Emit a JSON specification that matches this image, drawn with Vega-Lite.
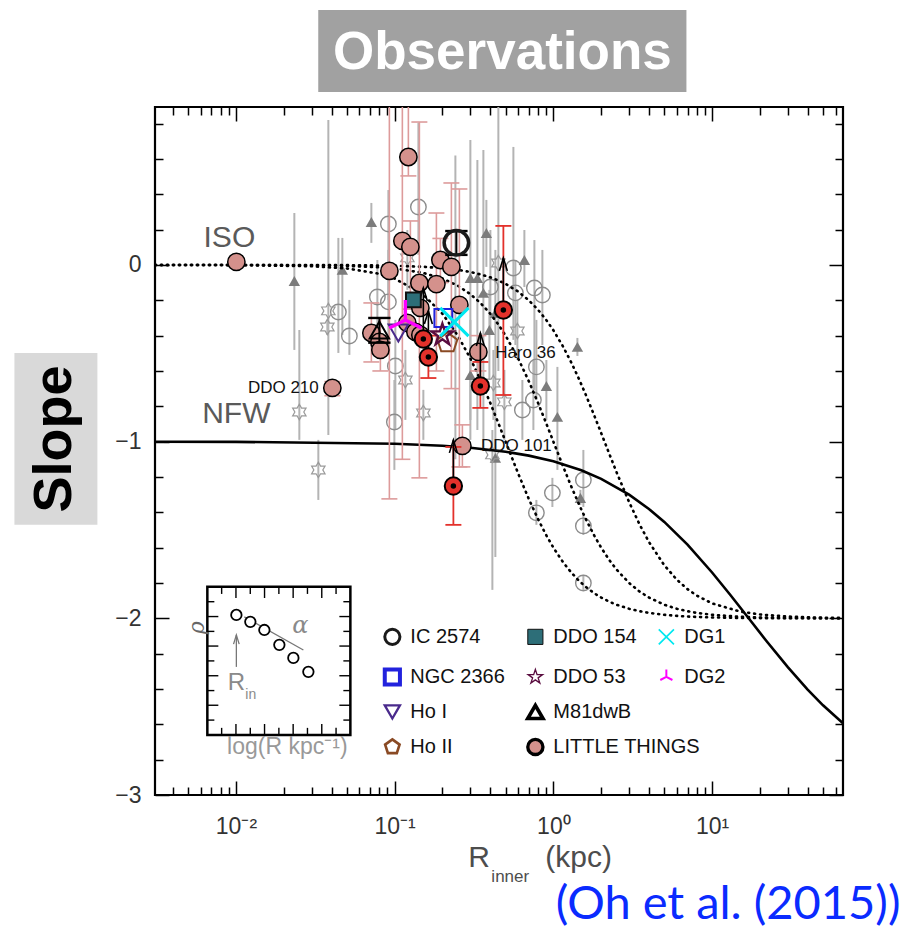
{
  "$schema": "https://vega.github.io/schema/vega-lite/v6.json",
  "width": 688,
  "height": 688,
  "autosize": {"type": "none"},
  "padding": {"left": 155, "top": 107, "right": 63, "bottom": 147},
  "background": "white",
  "config": {
    "view": {"stroke": "black", "strokeWidth": 2.2},
    "axis": {"domain": false, "grid": false},
    "text": {"font": "Liberation Sans"}
  },
  "datasets": {
    "gray": [
      {"r": 0.09128, "s": 0.232, "lo": -0.198, "hi": 0.424, "kind": "circle"},
      {"r": 0.1411, "s": 0.328, "lo": 0.057, "hi": 0.804, "kind": "circle"},
      {"r": 0.0778, "s": -0.181, "lo": -0.368, "hi": 0.028, "kind": "circle"},
      {"r": 0.09128, "s": -0.209, "lo": -0.481, "hi": 0.085, "kind": "circle"},
      {"r": 0.04418, "s": -0.266, "lo": -0.498, "hi": 0.153, "kind": "circle"},
      {"r": 0.05184, "s": -0.402, "lo": -0.509, "hi": -0.198, "kind": "circle"},
      {"r": 0.101, "s": -0.572, "lo": -0.934, "hi": -0.311, "kind": "circle"},
      {"r": 0.09957, "s": -0.889, "lo": -1.16, "hi": -0.651, "kind": "circle"},
      {"r": 0.4009, "s": -0.125, "lo": -0.368, "hi": 0.198, "kind": "circle"},
      {"r": 0.5598, "s": -0.017, "lo": -0.424, "hi": 0.668, "kind": "circle"},
      {"r": 0.7592, "s": -0.13, "lo": -0.707, "hi": 0.141, "kind": "circle"},
      {"r": 0.8524, "s": -0.17, "lo": -0.453, "hi": 0.085, "kind": "circle"},
      {"r": 0.5763, "s": -0.158, "lo": -0.453, "hi": 0.028, "kind": "circle"},
      {"r": 0.7815, "s": -0.577, "lo": -0.764, "hi": -0.311, "kind": "circle"},
      {"r": 0.7482, "s": -0.764, "lo": -0.934, "hi": -0.538, "kind": "circle"},
      {"r": 0.6377, "s": -0.821, "lo": -0.99, "hi": -0.651, "kind": "circle"},
      {"r": 1.545, "s": -1.217, "lo": -1.37, "hi": -1.047, "kind": "circle"},
      {"r": 0.9856, "s": -1.29, "lo": -1.37, "hi": -1.205, "kind": "circle"},
      {"r": 0.7815, "s": -1.403, "lo": -1.471, "hi": -1.33, "kind": "circle"},
      {"r": 1.545, "s": -1.477, "lo": -1.528, "hi": -1.415, "kind": "circle"},
      {"r": 1.545, "s": -1.8, "lo": -1.839, "hi": -1.754, "kind": "circle"},
      {"r": 0.02333, "s": -0.091, "lo": -0.481, "hi": 0.294, "kind": "triangle"},
      {"r": 0.04681, "s": -0.028, "lo": -0.396, "hi": 0.153, "kind": "triangle"},
      {"r": 0.07131, "s": 0.243, "lo": 0.125, "hi": 0.351, "kind": "triangle"},
      {"r": 0.3783, "s": 0.181, "lo": -0.011, "hi": 0.368, "kind": "triangle"},
      {"r": 0.6565, "s": 0.028, "lo": -0.125, "hi": 0.198, "kind": "triangle"},
      {"r": 0.2999, "s": -0.074, "lo": -0.877, "hi": 0.707, "kind": "triangle"},
      {"r": 0.332, "s": -0.074, "lo": -0.934, "hi": 0.594, "kind": "triangle"},
      {"r": 0.3622, "s": -0.158, "lo": -1.047, "hi": 0.651, "kind": "triangle"},
      {"r": 0.3952, "s": -0.368, "lo": -0.651, "hi": -0.141, "kind": "triangle"},
      {"r": 0.431, "s": -0.272, "lo": -0.651, "hi": 0.085, "kind": "triangle"},
      {"r": 0.2999, "s": -0.623, "lo": -0.99, "hi": -0.311, "kind": "triangle"},
      {"r": 1.417, "s": -0.464, "lo": -0.515, "hi": -0.413, "kind": "triangle"},
      {"r": 0.9034, "s": -0.685, "lo": -0.877, "hi": -0.538, "kind": "triangle"},
      {"r": 1.06, "s": -0.86, "lo": -1.16, "hi": -0.577, "kind": "triangle"},
      {"r": 0.431, "s": -1.092, "lo": -1.653, "hi": -0.651, "kind": "triangle"},
      {"r": 1.48, "s": -1.319, "lo": -1.358, "hi": -1.273, "kind": "triangle"},
      {"r": 0.2413, "s": -0.2, "lo": -1.1, "hi": 0.62, "kind": "triangle"},
      {"r": 0.03821, "s": -0.26, "lo": -0.962, "hi": 0.821, "kind": "star"},
      {"r": 0.03766, "s": -0.351, "lo": -0.396, "hi": -0.311, "kind": "star"},
      {"r": 0.02508, "s": -0.832, "lo": -0.99, "hi": -0.368, "kind": "star"},
      {"r": 0.03304, "s": -1.16, "lo": -1.33, "hi": -0.99, "kind": "star"},
      {"r": 0.1168, "s": -0.651, "lo": -0.877, "hi": -0.481, "kind": "star"},
      {"r": 0.1516, "s": -0.838, "lo": -0.99, "hi": -0.707, "kind": "star"},
      {"r": 0.1202, "s": 0.04, "lo": -0.141, "hi": 0.198, "kind": "star"},
      {"r": 0.4501, "s": 0.011, "lo": -0.6, "hi": 0.9, "kind": "star"},
      {"r": 0.5932, "s": -0.374, "lo": -0.538, "hi": -0.198, "kind": "star"},
      {"r": 0.4912, "s": -0.775, "lo": -0.99, "hi": -0.594, "kind": "star"},
      {"r": 0.4187, "s": -0.668, "lo": -0.877, "hi": -0.481, "kind": "star"},
      {"r": 0.4127, "s": -1.075, "lo": -1.839, "hi": -0.934, "kind": "star"}
    ],
    "curves": [
      {"model": "ISO a", "r": 0.00309, "s": 0}, {"model": "ISO a", "r": 0.01, "s": -0.0008}, {"model": "ISO a", "r": 0.03, "s": -0.0072},
      {"model": "ISO a", "r": 0.05, "s": -0.0198}, {"model": "ISO a", "r": 0.08, "s": -0.0499}, {"model": "ISO a", "r": 0.1, "s": -0.0769},
      {"model": "ISO a", "r": 0.15, "s": -0.1651}, {"model": "ISO a", "r": 0.2, "s": -0.2759}, {"model": "ISO a", "r": 0.25, "s": -0.4},
      {"model": "ISO a", "r": 0.3, "s": -0.5294}, {"model": "ISO a", "r": 0.35, "s": -0.6577}, {"model": "ISO a", "r": 0.4, "s": -0.7805},
      {"model": "ISO a", "r": 0.45, "s": -0.895}, {"model": "ISO a", "r": 0.5, "s": -1}, {"model": "ISO a", "r": 0.6, "s": -1.1803},
      {"model": "ISO a", "r": 0.7, "s": -1.3243}, {"model": "ISO a", "r": 0.8, "s": -1.4382}, {"model": "ISO a", "r": 0.9, "s": -1.5283},
      {"model": "ISO a", "r": 1, "s": -1.6}, {"model": "ISO a", "r": 1.15, "s": -1.682}, {"model": "ISO a", "r": 1.3, "s": -1.7423},
      {"model": "ISO a", "r": 1.45, "s": -1.7875}, {"model": "ISO a", "r": 1.6, "s": -1.8221}, {"model": "ISO a", "r": 1.8, "s": -1.8567},
      {"model": "ISO a", "r": 2, "s": -1.8824}, {"model": "ISO a", "r": 2.25, "s": -1.9059}, {"model": "ISO a", "r": 2.5, "s": -1.9231},
      {"model": "ISO a", "r": 3, "s": -1.9459}, {"model": "ISO a", "r": 3.5, "s": -1.96}, {"model": "ISO a", "r": 4, "s": -1.9692},
      {"model": "ISO a", "r": 5, "s": -1.9802}, {"model": "ISO a", "r": 6, "s": -1.9862}, {"model": "ISO a", "r": 7, "s": -1.9898},
      {"model": "ISO a", "r": 8, "s": -1.9922}, {"model": "ISO a", "r": 10, "s": -1.995}, {"model": "ISO a", "r": 15, "s": -1.9978},
      {"model": "ISO a", "r": 20, "s": -1.9988}, {"model": "ISO a", "r": 30, "s": -1.9994}, {"model": "ISO a", "r": 45, "s": -1.9998},
      {"model": "ISO a", "r": 66.8, "s": -2},
      {"model": "ISO b", "r": 0.00309, "s": 0}, {"model": "ISO b", "r": 0.01, "s": -0.0002}, {"model": "ISO b", "r": 0.03, "s": -0.0018},
      {"model": "ISO b", "r": 0.05, "s": -0.005}, {"model": "ISO b", "r": 0.08, "s": -0.0127}, {"model": "ISO b", "r": 0.1, "s": -0.0198},
      {"model": "ISO b", "r": 0.15, "s": -0.044}, {"model": "ISO b", "r": 0.2, "s": -0.0769}, {"model": "ISO b", "r": 0.25, "s": -0.1176},
      {"model": "ISO b", "r": 0.3, "s": -0.1651}, {"model": "ISO b", "r": 0.35, "s": -0.2183}, {"model": "ISO b", "r": 0.4, "s": -0.2759},
      {"model": "ISO b", "r": 0.45, "s": -0.3368}, {"model": "ISO b", "r": 0.5, "s": -0.4}, {"model": "ISO b", "r": 0.6, "s": -0.5294},
      {"model": "ISO b", "r": 0.7, "s": -0.6577}, {"model": "ISO b", "r": 0.8, "s": -0.7805}, {"model": "ISO b", "r": 0.9, "s": -0.895},
      {"model": "ISO b", "r": 1, "s": -1}, {"model": "ISO b", "r": 1.15, "s": -1.1389}, {"model": "ISO b", "r": 1.3, "s": -1.2565},
      {"model": "ISO b", "r": 1.45, "s": -1.3554}, {"model": "ISO b", "r": 1.6, "s": -1.4382}, {"model": "ISO b", "r": 1.8, "s": -1.5283},
      {"model": "ISO b", "r": 2, "s": -1.6}, {"model": "ISO b", "r": 2.25, "s": -1.6701}, {"model": "ISO b", "r": 2.5, "s": -1.7241},
      {"model": "ISO b", "r": 3, "s": -1.8}, {"model": "ISO b", "r": 3.5, "s": -1.8491}, {"model": "ISO b", "r": 4, "s": -1.8824},
      {"model": "ISO b", "r": 5, "s": -1.9231}, {"model": "ISO b", "r": 6, "s": -1.9459}, {"model": "ISO b", "r": 7, "s": -1.96},
      {"model": "ISO b", "r": 8, "s": -1.9692}, {"model": "ISO b", "r": 10, "s": -1.9802}, {"model": "ISO b", "r": 15, "s": -1.9912},
      {"model": "ISO b", "r": 20, "s": -1.995}, {"model": "ISO b", "r": 30, "s": -1.9978}, {"model": "ISO b", "r": 45, "s": -1.999},
      {"model": "ISO b", "r": 66.8, "s": -1.9996},
      {"model": "ISO c", "r": 0.00309, "s": 0}, {"model": "ISO c", "r": 0.01, "s": 0}, {"model": "ISO c", "r": 0.03, "s": -0.0004},
      {"model": "ISO c", "r": 0.05, "s": -0.0011}, {"model": "ISO c", "r": 0.08, "s": -0.0029}, {"model": "ISO c", "r": 0.1, "s": -0.0045},
      {"model": "ISO c", "r": 0.15, "s": -0.0102}, {"model": "ISO c", "r": 0.2, "s": -0.018}, {"model": "ISO c", "r": 0.25, "s": -0.0279},
      {"model": "ISO c", "r": 0.3, "s": -0.04}, {"model": "ISO c", "r": 0.35, "s": -0.0541}, {"model": "ISO c", "r": 0.4, "s": -0.07},
      {"model": "ISO c", "r": 0.45, "s": -0.0878}, {"model": "ISO c", "r": 0.5, "s": -0.1073}, {"model": "ISO c", "r": 0.6, "s": -0.1509},
      {"model": "ISO c", "r": 0.7, "s": -0.2}, {"model": "ISO c", "r": 0.8, "s": -0.2535}, {"model": "ISO c", "r": 0.9, "s": -0.3103},
      {"model": "ISO c", "r": 1, "s": -0.3697}, {"model": "ISO c", "r": 1.15, "s": -0.4614}, {"model": "ISO c", "r": 1.3, "s": -0.5541},
      {"model": "ISO c", "r": 1.45, "s": -0.6457}, {"model": "ISO c", "r": 1.6, "s": -0.7346}, {"model": "ISO c", "r": 1.8, "s": -0.8471},
      {"model": "ISO c", "r": 2, "s": -0.9512}, {"model": "ISO c", "r": 2.25, "s": -1.0689}, {"model": "ISO c", "r": 2.5, "s": -1.1726},
      {"model": "ISO c", "r": 3, "s": -1.3423}, {"model": "ISO c", "r": 3.5, "s": -1.4706}, {"model": "ISO c", "r": 4, "s": -1.5678},
      {"model": "ISO c", "r": 5, "s": -1.7001}, {"model": "ISO c", "r": 6, "s": -1.7817}, {"model": "ISO c", "r": 7, "s": -1.8349},
      {"model": "ISO c", "r": 8, "s": -1.8711}, {"model": "ISO c", "r": 10, "s": -1.9155}, {"model": "ISO c", "r": 15, "s": -1.9616},
      {"model": "ISO c", "r": 20, "s": -1.9782}, {"model": "ISO c", "r": 30, "s": -1.9902}, {"model": "ISO c", "r": 45, "s": -1.9957},
      {"model": "ISO c", "r": 66.8, "s": -1.998},
      {"model": "NFW", "r": 0.00309, "s": -1.0004}, {"model": "NFW", "r": 0.01, "s": -1.0012}, {"model": "NFW", "r": 0.1, "s": -1.0117},
      {"model": "NFW", "r": 0.2, "s": -1.0233}, {"model": "NFW", "r": 0.3, "s": -1.0347}, {"model": "NFW", "r": 0.5, "s": -1.0571},
      {"model": "NFW", "r": 0.7, "s": -1.0791}, {"model": "NFW", "r": 1, "s": -1.1111}, {"model": "NFW", "r": 1.5, "s": -1.1622},
      {"model": "NFW", "r": 2, "s": -1.2105}, {"model": "NFW", "r": 3, "s": -1.3}, {"model": "NFW", "r": 4, "s": -1.381},
      {"model": "NFW", "r": 5, "s": -1.4545}, {"model": "NFW", "r": 7, "s": -1.5833}, {"model": "NFW", "r": 10, "s": -1.7407},
      {"model": "NFW", "r": 13, "s": -1.8667}, {"model": "NFW", "r": 17, "s": -2}, {"model": "NFW", "r": 22, "s": -2.1282},
      {"model": "NFW", "r": 30, "s": -2.2766}, {"model": "NFW", "r": 40, "s": -2.4035}, {"model": "NFW", "r": 50, "s": -2.4925},
      {"model": "NFW", "r": 66.8, "s": -2.5944}
    ],
    "little": [
      {"r": 0.01006, "s": 0.017},
      {"r": 0.122, "s": 0.611, "lo": 0.504, "hi": 1.0},
      {"r": 0.1118, "s": 0.136, "lo": -1.1, "hi": 1.0},
      {"r": 0.1256, "s": 0.102, "lo": -0.25, "hi": 0.249},
      {"r": 0.09262, "s": -0.034, "lo": -1.324, "hi": 1.0},
      {"r": 0.1941, "s": 0.028, "lo": -0.1, "hi": 0.15},
      {"r": 0.2277, "s": -0.011, "lo": -0.7, "hi": 0.464},
      {"r": 0.1431, "s": -0.102, "lo": -1.205, "hi": 0.809},
      {"r": 0.1832, "s": -0.108, "lo": -0.6, "hi": 0.294},
      {"r": 0.2557, "s": -0.226, "lo": -1.143, "hi": 0.43},
      {"r": 0.07131, "s": -0.385, "lo": -0.549, "hi": -0.215},
      {"r": 0.0801, "s": -0.436},
      {"r": 0.08127, "s": -0.481, "lo": -0.6, "hi": -0.3},
      {"r": 0.1202, "s": -0.328},
      {"r": 0.1351, "s": -0.379},
      {"r": 0.1452, "s": -0.396},
      {"r": 0.1452, "s": -0.243},
      {"r": 0.04049, "s": -0.696, "lo": -0.74, "hi": -0.66},
      {"r": 0.2671, "s": -1.024, "lo": -1.143, "hi": -0.905},
      {"r": 0.3369, "s": -0.492, "lo": -0.6, "hi": -0.4}
    ],
    "red": [
      {"r": 0.1516, "s": -0.419, "top": -0.13},
      {"r": 0.1631, "s": -0.521, "lo": -0.64, "hi": -0.4, "top": -0.26},
      {"r": 0.4841, "s": -0.255, "lo": -0.736, "hi": 0.221, "top": 0.04},
      {"r": 0.3467, "s": -0.685, "lo": -0.809, "hi": -0.549, "top": -0.385},
      {"r": 0.2344, "s": -1.251, "lo": -1.471, "hi": -1.03, "top": -0.99}
    ],
    "special": [
      {"name": "IC 2574", "r": 0.2448, "s": 0.125},
      {"name": "DDO 154", "r": 0.1312, "s": -0.198},
      {"name": "NGC 2366", "r": 0.2027, "s": -0.3},
      {"name": "Ho I", "r": 0.1055, "s": -0.385},
      {"name": "Ho II", "r": 0.2148, "s": -0.441},
      {"name": "DDO 53", "r": 0.1998, "s": -0.396},
      {"name": "M81dwB", "r": 0.0801, "s": -0.368},
      {"name": "DG1", "r": 0.2378, "s": -0.323},
      {"name": "DG2", "r": 0.1168, "s": -0.311}
    ],
    "specialBars": [
      {"r": 0.2448, "lo": 0.057, "hi": 0.192},
      {"r": 0.0801, "lo": -0.44, "hi": -0.3}
    ],
    "legend": [
      {"name": "IC 2574", "r": 0.0967, "s": -2.105},
      {"name": "NGC 2366", "r": 0.0967, "s": -2.332},
      {"name": "Ho I", "r": 0.0967, "s": -2.53},
      {"name": "Ho II", "r": 0.0967, "s": -2.728},
      {"name": "DDO 154", "r": 0.77, "s": -2.105},
      {"name": "DDO 53", "r": 0.77, "s": -2.332},
      {"name": "M81dwB", "r": 0.77, "s": -2.53},
      {"name": "LITTLE THINGS", "r": 0.77, "s": -2.728},
      {"name": "DG1", "r": 5.15, "s": -2.105},
      {"name": "DG2", "r": 5.15, "s": -2.332}
    ],
    "insetTicks": [
      {"r": 0.006603, "r2": 0.00731, "s": -1.906, "s2": -1.906},
      {"r": 0.006603, "r2": 0.007745, "s": -1.99, "s2": -1.99},
      {"r": 0.006603, "r2": 0.00731, "s": -2.074, "s2": -2.074},
      {"r": 0.006603, "r2": 0.007745, "s": -2.157, "s2": -2.157},
      {"r": 0.006603, "r2": 0.00731, "s": -2.241, "s2": -2.241},
      {"r": 0.006603, "r2": 0.007745, "s": -2.325, "s2": -2.325},
      {"r": 0.006603, "r2": 0.00731, "s": -2.409, "s2": -2.409},
      {"r": 0.006603, "r2": 0.007745, "s": -2.492, "s2": -2.492},
      {"r": 0.006603, "r2": 0.00731, "s": -2.576, "s2": -2.576},
      {"r": 0.05259, "r2": 0.0475, "s": -1.906, "s2": -1.906},
      {"r": 0.05259, "r2": 0.04482, "s": -1.99, "s2": -1.99},
      {"r": 0.05259, "r2": 0.0475, "s": -2.074, "s2": -2.074},
      {"r": 0.05259, "r2": 0.04482, "s": -2.157, "s2": -2.157},
      {"r": 0.05259, "r2": 0.0475, "s": -2.241, "s2": -2.241},
      {"r": 0.05259, "r2": 0.04482, "s": -2.325, "s2": -2.325},
      {"r": 0.05259, "r2": 0.0475, "s": -2.409, "s2": -2.409},
      {"r": 0.05259, "r2": 0.04482, "s": -2.492, "s2": -2.492},
      {"r": 0.05259, "r2": 0.0475, "s": -2.576, "s2": -2.576},
      {"r": 0.008126, "r2": 0.008126, "s": -1.822, "s2": -1.862},
      {"r": 0.01, "r2": 0.01, "s": -1.822, "s2": -1.885},
      {"r": 0.01231, "r2": 0.01231, "s": -1.822, "s2": -1.862},
      {"r": 0.01514, "r2": 0.01514, "s": -1.822, "s2": -1.885},
      {"r": 0.01864, "r2": 0.01864, "s": -1.822, "s2": -1.862},
      {"r": 0.02293, "r2": 0.02293, "s": -1.822, "s2": -1.885},
      {"r": 0.02822, "r2": 0.02822, "s": -1.822, "s2": -1.862},
      {"r": 0.03473, "r2": 0.03473, "s": -1.822, "s2": -1.885},
      {"r": 0.04273, "r2": 0.04273, "s": -1.822, "s2": -1.862},
      {"r": 0.008126, "r2": 0.008126, "s": -2.66, "s2": -2.62},
      {"r": 0.01, "r2": 0.01, "s": -2.66, "s2": -2.598},
      {"r": 0.01231, "r2": 0.01231, "s": -2.66, "s2": -2.62},
      {"r": 0.01514, "r2": 0.01514, "s": -2.66, "s2": -2.598},
      {"r": 0.01864, "r2": 0.01864, "s": -2.66, "s2": -2.62},
      {"r": 0.02293, "r2": 0.02293, "s": -2.66, "s2": -2.598},
      {"r": 0.02822, "r2": 0.02822, "s": -2.66, "s2": -2.62},
      {"r": 0.03473, "r2": 0.03473, "s": -2.66, "s2": -2.598},
      {"r": 0.04273, "r2": 0.04273, "s": -2.66, "s2": -2.62}
    ],
    "insetProfile": [
      {"r": 0.01006, "s": -1.981},
      {"r": 0.01232, "s": -2.02},
      {"r": 0.0151, "s": -2.066},
      {"r": 0.01877, "s": -2.15},
      {"r": 0.023, "s": -2.224},
      {"r": 0.02859, "s": -2.303}
    ]
  },
  "encoding": {
    "x": {"field": "r", "type": "quantitative", "scale": {"type": "log", "domain": [0.00309, 66.8], "nice": false}, "axis": null},
    "y": {"field": "s", "type": "quantitative", "scale": {"domain": [-3, 0.894], "nice": false, "zero": false}, "axis": null}
  },
  "layer": [
    {
      "data": {"values": [{"r": 1, "s": 0}]},
      "mark": {"type": "point", "opacity": 0},
      "encoding": {
        "x": {"field": "r", "type": "quantitative", "scale": {"type": "log", "domain": [0.00309, 66.8], "nice": false},
          "axis": {"orient": "bottom",
            "values": [0.004, 0.005, 0.006, 0.007, 0.008, 0.009, 0.01, 0.02, 0.03, 0.04, 0.05, 0.06, 0.07, 0.08, 0.09, 0.1, 0.2, 0.3, 0.4, 0.5, 0.6, 0.7, 0.8, 0.9, 1, 2, 3, 4, 5, 6, 7, 8, 9, 10, 20, 30, 40, 50, 60],
            "tickSize": {"condition": {"test": "indexof([0.01, 0.1, 1, 10], datum.value) >= 0", "value": -14}, "value": -8},
            "tickWidth": 1.5, "tickColor": "#000",
            "labelExpr": "datum.value == 0.01 ? '10⁻²' : datum.value == 0.1 ? '10⁻¹' : datum.value == 1 ? '10⁰' : datum.value == 10 ? '10¹' : ''",
            "labelFont": "Liberation Sans", "labelFontSize": 23, "labelColor": "#333", "labelPadding": 34, "labelFlush": false, "labelOverlap": false, "title": null}},
        "y": {"field": "s", "type": "quantitative", "scale": {"domain": [-3, 0.894], "nice": false, "zero": false},
          "axis": {"orient": "left",
            "values": [-3, -2.8, -2.6, -2.4, -2.2, -2, -1.8, -1.6, -1.4, -1.2, -1, -0.8, -0.6, -0.4, -0.2, 0, 0.2, 0.4, 0.6, 0.8],
            "tickSize": {"condition": {"test": "datum.value % 1 == 0", "value": -14}, "value": -8},
            "tickWidth": 1.5, "tickColor": "#000",
            "labelExpr": "datum.value % 1 == 0 ? (datum.value == 0 ? '0' : '−' + abs(datum.value)) : ''",
            "labelFont": "Liberation Sans", "labelFontSize": 23, "labelColor": "#333", "labelPadding": 28, "labelFlush": false, "labelOverlap": false, "title": null}}
      }
    },
    {
      "data": {"values": [{"r": 1, "s": 0}]},
      "mark": {"type": "point", "opacity": 0},
      "encoding": {
        "x": {"field": "r", "type": "quantitative", "scale": {"type": "log", "domain": [0.00309, 66.8], "nice": false},
          "axis": {"orient": "top",
            "values": [0.004, 0.005, 0.006, 0.007, 0.008, 0.009, 0.01, 0.02, 0.03, 0.04, 0.05, 0.06, 0.07, 0.08, 0.09, 0.1, 0.2, 0.3, 0.4, 0.5, 0.6, 0.7, 0.8, 0.9, 1, 2, 3, 4, 5, 6, 7, 8, 9, 10, 20, 30, 40, 50, 60],
            "tickSize": {"condition": {"test": "indexof([0.01, 0.1, 1, 10], datum.value) >= 0", "value": -14}, "value": -8},
            "tickWidth": 1.5, "tickColor": "#000", "labels": false, "title": null}},
        "y": {"field": "s", "type": "quantitative", "scale": {"domain": [-3, 0.894], "nice": false, "zero": false},
          "axis": {"orient": "right",
            "values": [-3, -2.8, -2.6, -2.4, -2.2, -2, -1.8, -1.6, -1.4, -1.2, -1, -0.8, -0.6, -0.4, -0.2, 0, 0.2, 0.4, 0.6, 0.8],
            "tickSize": {"condition": {"test": "datum.value % 1 == 0", "value": -14}, "value": -8},
            "tickWidth": 1.5, "tickColor": "#000", "labels": false, "title": null}}
      }
    },
    {
      "data": {"name": "gray"},
      "mark": {"type": "rule", "color": "#b4b4b4", "strokeWidth": 2, "clip": true},
      "encoding": {
        "y": {"field": "lo", "type": "quantitative", "scale": {"domain": [-3, 0.894], "nice": false, "zero": false}},
        "y2": {"field": "hi"}
      }
    },
    {
      "data": {"name": "gray"},
      "transform": [{"filter": "datum.kind == 'circle'"}],
      "mark": {"type": "point", "shape": "circle", "filled": false, "stroke": "#8c8c8c", "strokeWidth": 1.4, "size": 240, "opacity": 1}
    },
    {
      "data": {"name": "gray"},
      "transform": [{"filter": "datum.kind == 'triangle'"}],
      "mark": {"type": "point", "shape": "triangle-up", "filled": true, "color": "#7c7c7c", "size": 130, "opacity": 1}
    },
    {
      "data": {"name": "gray"},
      "transform": [{"filter": "datum.kind == 'star'"}],
      "mark": {"type": "point", "shape": "M0,-1L0.289,-0.5L0.866,-0.5L0.577,0L0.866,0.5L0.289,0.5L0,1L-0.289,0.5L-0.866,0.5L-0.577,0L-0.866,-0.5L-0.289,-0.5Z", "filled": false, "stroke": "#9a9a9a", "strokeWidth": 1.2, "size": 240, "opacity": 1}
    },
    {
      "data": {"name": "curves"},
      "transform": [{"filter": "datum.model != 'NFW'"}],
      "mark": {"type": "line", "color": "black", "strokeWidth": 2.6, "strokeDash": [1, 5], "strokeCap": "round", "clip": true},
      "encoding": {"detail": {"field": "model"}}
    },
    {
      "data": {"name": "curves"},
      "transform": [{"filter": "datum.model == 'NFW'"}],
      "mark": {"type": "line", "color": "black", "strokeWidth": 2.6, "clip": true}
    },
    {
      "data": {"name": "little"},
      "mark": {"type": "rule", "color": "#dd9b9b", "strokeWidth": 1.6, "clip": true},
      "encoding": {
        "y": {"field": "lo", "type": "quantitative", "scale": {"domain": [-3, 0.894], "nice": false, "zero": false}},
        "y2": {"field": "hi"}
      }
    },
    {
      "data": {"name": "little"},
      "transform": [{"fold": ["lo", "hi"], "as": ["end", "cap"]}],
      "mark": {"type": "point", "shape": "M-1,0L1,0", "filled": false, "stroke": "#dd9b9b", "strokeWidth": 1.6, "size": 256, "opacity": 1, "clip": true},
      "encoding": {
        "y": {"field": "cap", "type": "quantitative", "scale": {"domain": [-3, 0.894], "nice": false, "zero": false}}
      }
    },
    {
      "data": {"name": "little"},
      "mark": {"type": "point", "shape": "circle", "filled": true, "fill": "#d4918c", "stroke": "black", "strokeWidth": 1.5, "size": 300, "opacity": 1}
    },
    {
      "data": {"name": "red"},
      "mark": {"type": "rule", "color": "#e3312b", "strokeWidth": 1.8},
      "encoding": {
        "y": {"field": "lo", "type": "quantitative", "scale": {"domain": [-3, 0.894], "nice": false, "zero": false}},
        "y2": {"field": "hi"}
      }
    },
    {
      "data": {"name": "red"},
      "transform": [{"fold": ["lo", "hi"], "as": ["end", "cap"]}],
      "mark": {"type": "point", "shape": "M-1,0L1,0", "filled": false, "stroke": "#e3312b", "strokeWidth": 1.8, "size": 256, "opacity": 1},
      "encoding": {
        "y": {"field": "cap", "type": "quantitative", "scale": {"domain": [-3, 0.894], "nice": false, "zero": false}}
      }
    },
    {
      "data": {"name": "red"},
      "mark": {"type": "rule", "color": "black", "strokeWidth": 1.6},
      "encoding": {
        "y2": {"field": "top"}
      }
    },
    {
      "data": {"name": "red"},
      "mark": {"type": "point", "shape": "M-0.8,2.6L0,0L0.8,2.6", "filled": false, "stroke": "black", "strokeWidth": 1.6, "size": 100, "opacity": 1},
      "encoding": {
        "y": {"field": "top", "type": "quantitative", "scale": {"domain": [-3, 0.894], "nice": false, "zero": false}}
      }
    },
    {
      "data": {"name": "red"},
      "mark": {"type": "point", "shape": "circle", "filled": true, "fill": "#e3312b", "stroke": "black", "strokeWidth": 2, "size": 300, "opacity": 1}
    },
    {
      "data": {"name": "red"},
      "mark": {"type": "point", "shape": "circle", "filled": true, "color": "black", "size": 30, "opacity": 1}
    },
    {
      "data": {"name": "specialBars"},
      "mark": {"type": "rule", "color": "black", "strokeWidth": 2},
      "encoding": {
        "y": {"field": "lo", "type": "quantitative", "scale": {"domain": [-3, 0.894], "nice": false, "zero": false}},
        "y2": {"field": "hi"}
      }
    },
    {
      "data": {"name": "specialBars"},
      "transform": [{"fold": ["lo", "hi"], "as": ["end", "cap"]}],
      "mark": {"type": "point", "shape": "M-1,0L1,0", "filled": false, "stroke": "black", "strokeWidth": 2.4, "size": 500, "opacity": 1},
      "encoding": {
        "y": {"field": "cap", "type": "quantitative", "scale": {"domain": [-3, 0.894], "nice": false, "zero": false}}
      }
    },
    {
      "data": {"name": "special"},
      "mark": {"type": "point", "filled": true, "opacity": 1},
      "encoding": {
        "shape": {"field": "name", "type": "nominal", "legend": null,
          "scale": {"domain": ["IC 2574", "NGC 2366", "Ho I", "Ho II", "DDO 154", "DDO 53", "M81dwB", "LITTLE THINGS", "DG1", "DG2"],
            "range": ["circle", "square", "triangle-down", "M0,-1L0.951,-0.309L0.588,0.809L-0.588,0.809L-0.951,-0.309Z", "square", "M0,-1L0.2245,-0.309L0.951,-0.309L0.3633,0.118L0.588,0.809L0,0.382L-0.588,0.809L-0.3633,0.118L-0.951,-0.309L-0.2245,-0.309Z", "triangle-up", "circle", "M-1,-1L1,1M-1,1L1,-1", "M0,0L0,-1M0,0L-0.8,0.4M0,0L0.8,0.4"]}},
        "fill": {"field": "name", "type": "nominal", "legend": null,
          "scale": {"domain": ["IC 2574", "NGC 2366", "Ho I", "Ho II", "DDO 154", "DDO 53", "M81dwB", "LITTLE THINGS", "DG1", "DG2"],
            "range": ["transparent", "transparent", "transparent", "transparent", "#2d6e78", "transparent", "transparent", "#d4918c", "transparent", "transparent"]}},
        "stroke": {"field": "name", "type": "nominal", "legend": null,
          "scale": {"domain": ["IC 2574", "NGC 2366", "Ho I", "Ho II", "DDO 154", "DDO 53", "M81dwB", "LITTLE THINGS", "DG1", "DG2"],
            "range": ["#1a1a1a", "#2222dd", "#4a2a8c", "#8a4a24", "#111111", "#5a0d40", "#000000", "#000000", "#00e8f0", "#ff00ff"]}},
        "strokeWidth": {"field": "name", "type": "nominal", "legend": null,
          "scale": {"type": "ordinal", "domain": ["IC 2574", "NGC 2366", "Ho I", "Ho II", "DDO 154", "DDO 53", "M81dwB", "LITTLE THINGS", "DG1", "DG2"],
            "range": [3.5, 2, 2, 2, 2, 2.4, 2, 1.5, 3.2, 3.4]}},
        "size": {"field": "name", "type": "nominal", "legend": null,
          "scale": {"type": "ordinal", "domain": ["IC 2574", "NGC 2366", "Ho I", "Ho II", "DDO 154", "DDO 53", "M81dwB", "LITTLE THINGS", "DG1", "DG2"],
            "range": [600, 320, 380, 440, 220, 520, 380, 300, 800, 1600]}}
      }
    },
    {
      "data": {"name": "legend"},
      "mark": {"type": "point", "filled": true, "opacity": 1, "size": 230},
      "encoding": {
        "shape": {"field": "name", "type": "nominal", "legend": null},
        "fill": {"field": "name", "type": "nominal", "legend": null},
        "stroke": {"field": "name", "type": "nominal", "legend": null},
        "strokeWidth": {"field": "name", "type": "nominal", "legend": null}
      }
    },
    {
      "data": {"name": "legend"},
      "mark": {"type": "text", "align": "left", "baseline": "middle", "dx": 18, "font": "Liberation Sans", "fontSize": 20, "color": "#111"},
      "encoding": {"text": {"field": "name"}}
    },
    {
      "data": {"values": [
        {"label": "DDO 210", "r": 0.01989, "s": -0.696},
        {"label": "Haro 36", "r": 0.6661, "s": -0.498},
        {"label": "DDO 101", "r": 0.5846, "s": -1.024}
      ]},
      "mark": {"type": "text", "align": "center", "baseline": "middle", "font": "Liberation Sans", "fontSize": 17, "color": "#111"},
      "encoding": {"text": {"field": "label"}}
    },
    {
      "data": {"values": [
        {"label": "ISO", "r": 0.00909, "s": 0.153},
        {"label": "NFW", "r": 0.01006, "s": -0.843}
      ]},
      "mark": {"type": "text", "align": "center", "baseline": "middle", "font": "Liberation Sans", "fontSize": 30, "color": "#5a5a5a"},
      "encoding": {"text": {"field": "label"}}
    },
    {
      "data": {"values": [{"r": 0.006603, "r2": 0.05259, "s": -1.822, "s2": -2.66}]},
      "mark": {"type": "rect", "fill": "white", "stroke": "black", "strokeWidth": 2.5},
      "encoding": {"x2": {"field": "r2"}, "y2": {"field": "s2"}}
    },
    {
      "data": {"name": "insetTicks"},
      "mark": {"type": "rule", "color": "black", "strokeWidth": 1.4},
      "encoding": {"x2": {"field": "r2"}, "y2": {"field": "s2"}}
    },
    {
      "data": {"values": [{"r": 0.01129, "s": -1.992}, {"r": 0.02659, "s": -2.179}]},
      "mark": {"type": "line", "color": "#777", "strokeWidth": 1.3}
    },
    {
      "data": {"values": [{"r": 0.01006, "s": -2.275, "tip": -2.094}]},
      "mark": {"type": "rule", "color": "#777", "strokeWidth": 1.3},
      "encoding": {"y2": {"field": "tip"}}
    },
    {
      "data": {"values": [{"r": 0.01006, "s": -2.094}]},
      "mark": {"type": "point", "shape": "M-0.8,2.6L0,0L0.8,2.6", "filled": false, "stroke": "#777", "strokeWidth": 1.3, "size": 50, "opacity": 1}
    },
    {
      "data": {"name": "insetProfile"},
      "mark": {"type": "point", "shape": "circle", "filled": true, "fill": "white", "stroke": "black", "strokeWidth": 1.8, "size": 110, "opacity": 1}
    },
    {
      "data": {"values": [{"label": "R", "r": 0.01006, "s": -2.366}]},
      "mark": {"type": "text", "align": "center", "baseline": "middle", "font": "Liberation Sans", "fontSize": 24, "color": "#8a8a8a"},
      "encoding": {"text": {"field": "label"}}
    },
    {
      "data": {"values": [{"label": "α", "r": 0.02545, "s": -2.043}]},
      "mark": {"type": "text", "align": "center", "baseline": "middle", "font": "DejaVu Serif", "fontSize": 24, "fontStyle": "italic", "color": "#8a8a8a"},
      "encoding": {"text": {"field": "label"}}
    },
    {
      "data": {"values": [{"label": "in", "r": 0.01145, "s": -2.433}]},
      "mark": {"type": "text", "align": "left", "baseline": "middle", "font": "Liberation Sans", "fontSize": 14, "color": "#8a8a8a"},
      "encoding": {"text": {"field": "label"}}
    },
    {
      "data": {"values": [{"label": "ρ", "r": 0.005711, "s": -2.054}]},
      "mark": {"type": "text", "align": "center", "baseline": "middle", "font": "DejaVu Serif", "fontSize": 22, "fontStyle": "italic", "color": "#666", "angle": 270},
      "encoding": {"text": {"field": "label"}}
    },
    {
      "data": {"values": [{"label": "log(R  kpc⁻¹)", "r": 0.02108, "s": -2.73}]},
      "mark": {"type": "text", "align": "center", "baseline": "middle", "font": "Liberation Sans", "fontSize": 23, "color": "#999"},
      "encoding": {"text": {"field": "label"}}
    },
    {
      "data": {"values": [{"r": 0.033, "r2": 6.89, "s": 1.443, "s2": 0.979}]},
      "mark": {"type": "rect", "fill": "#a1a1a1"},
      "encoding": {"x2": {"field": "r2"}, "y2": {"field": "s2"}}
    },
    {
      "data": {"values": [{"label": "Observations", "r": 0.477, "s": 1.2}]},
      "mark": {"type": "text", "align": "center", "baseline": "middle", "font": "Liberation Sans", "fontSize": 53, "fontWeight": "bold", "color": "white"},
      "encoding": {"text": {"field": "label"}}
    },
    {
      "data": {"values": [{"r": 0.000402, "r2": 0.00134, "s": -0.498, "s2": -1.471}]},
      "mark": {"type": "rect", "fill": "#d9d9d9"},
      "encoding": {"x2": {"field": "r2"}, "y2": {"field": "s2"}}
    },
    {
      "data": {"values": [{"label": "Slope", "r": 0.000728, "s": -0.985}]},
      "mark": {"type": "text", "align": "center", "baseline": "middle", "font": "Liberation Sans", "fontSize": 54, "fontWeight": "bold", "color": "black", "angle": 270},
      "encoding": {"text": {"field": "label"}}
    },
    {
      "data": {"values": [
        {"label": "R", "r": 0.2913, "s": -3.356},
        {"label": "(kpc)", "r": 0.8903, "s": -3.356}
      ]},
      "mark": {"type": "text", "align": "left", "baseline": "middle", "font": "Liberation Sans", "fontSize": 30, "color": "#4d4d4d"},
      "encoding": {"text": {"field": "label"}}
    },
    {
      "data": {"values": [{"label": "inner", "r": 0.4067, "s": -3.463}]},
      "mark": {"type": "text", "align": "left", "baseline": "middle", "font": "Liberation Sans", "fontSize": 17, "color": "#4d4d4d"},
      "encoding": {"text": {"field": "label"}}
    },
    {
      "data": {"values": [{"label": "(Oh et al. (2015))", "r": 153.7, "s": -3.622}]},
      "mark": {"type": "text", "align": "right", "baseline": "middle", "fontSize": 47, "font": "Lato", "color": "#0a2bff"},
      "encoding": {"text": {"field": "label"}}
    }
  ],
  "resolve": {"axis": {"x": "independent", "y": "independent"}}
}
